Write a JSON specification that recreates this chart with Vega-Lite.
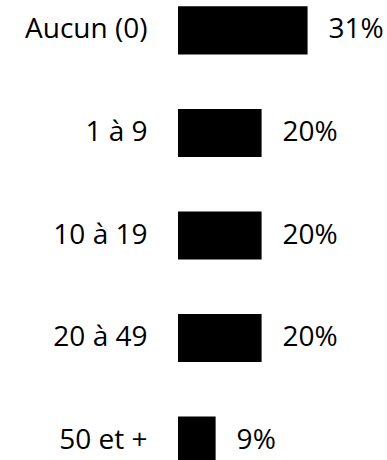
{
  "$schema": "https://vega.github.io/schema/vega-lite/v6.json",
  "autosize": "none",
  "padding": {"left": 178, "top": 0, "right": 0, "bottom": 0},
  "width": 209,
  "height": 471,
  "background": "white",
  "config": {"view": {"stroke": null}, "font": "Open Sans"},
  "data": {
    "values": [
      {"cat": "Aucun (0)", "pct": 31, "label": "31%"},
      {"cat": "1 à 9", "pct": 20, "label": "20%"},
      {"cat": "10 à 19", "pct": 20, "label": "20%"},
      {"cat": "20 à 49", "pct": 20, "label": "20%"},
      {"cat": "50 et +", "pct": 9, "label": "9%"}
    ]
  },
  "encoding": {
    "y": {
      "field": "cat",
      "type": "nominal",
      "sort": null,
      "scale": {"paddingInner": 0.53, "paddingOuter": 0.062},
      "axis": {
        "title": null,
        "domain": false,
        "ticks": false,
        "labelPadding": 31,
        "labelFont": "Open Sans",
        "labelFontSize": 28,
        "labelColor": "black",
        "labelLimit": 300
      }
    },
    "x": {
      "field": "pct",
      "type": "quantitative",
      "scale": {"domain": [0, 50]},
      "axis": null
    }
  },
  "layer": [
    {"mark": {"type": "bar", "color": "black"}},
    {
      "mark": {"type": "text", "align": "left", "baseline": "middle", "dx": 21, "fontSize": 28, "font": "Open Sans", "color": "black"},
      "encoding": {"text": {"field": "label"}}
    }
  ]
}
